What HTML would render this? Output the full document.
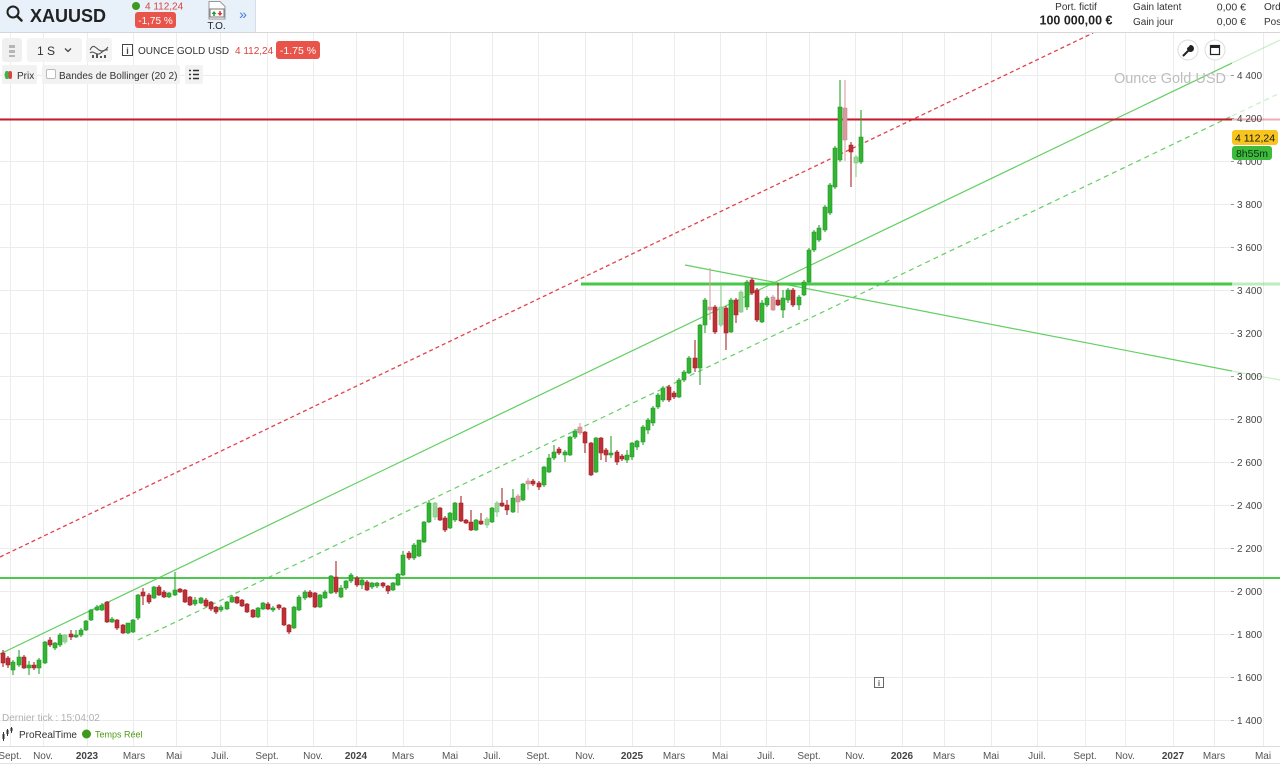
<!DOCTYPE html>
<html><head><meta charset="utf-8"><style>
html,body{margin:0;padding:0;background:#fff;}
svg{display:block;}
</style></head><body>
<svg width="1280" height="764" viewBox="0 0 1280 764" xmlns="http://www.w3.org/2000/svg" font-family="'Liberation Sans', Arial, sans-serif">
<defs><clipPath id="pc"><rect x="0" y="33" width="1232" height="713"/></clipPath></defs>
<rect width="1280" height="764" fill="#fff"/>

<!-- HEADER -->
<rect x="0" y="0" width="255" height="32" fill="#e8f0fa"/>
<line x1="0" y1="32.5" x2="1280" y2="32.5" stroke="#d6d6d6"/>
<line x1="255.5" y1="0" x2="255.5" y2="32" stroke="#d6dde6"/>
<circle cx="13" cy="12" r="5.5" fill="none" stroke="#222" stroke-width="2"/>
<line x1="17" y1="16" x2="21.5" y2="20.5" stroke="#222" stroke-width="2.5" stroke-linecap="round"/>
<text x="30" y="22" font-size="18" font-weight="bold" fill="#222">XAUUSD</text>
<circle cx="136" cy="6" r="4" fill="#3b9a1f"/>
<text x="145" y="9.5" font-size="10" fill="#d9443c">4 112,24</text>
<rect x="135" y="12" width="41" height="16" rx="3" fill="#e8534a"/>
<text x="155.5" y="24" font-size="10" fill="#fff" text-anchor="middle">-1,75 %</text>
<path d="M209 1.5h11l5 5v12.5h-16z" fill="#fff" stroke="#999"/>
<rect x="210" y="9" width="14" height="8" fill="#fff" stroke="#777"/>
<path d="M214 11l-2.5 3h1.7v2h1.6v-2h1.7z" fill="#2a9d2a"/>
<path d="M220 16l2.5-3h-1.7v-2h-1.6v2h-1.7z" fill="#d33"/>
<text x="216.5" y="29" font-size="10" fill="#222" text-anchor="middle">T.O.</text>
<text x="243" y="19" font-size="14" fill="#3a7bd5" text-anchor="middle">»</text>

<text x="1076" y="10" font-size="10" fill="#333" text-anchor="middle">Port. fictif</text>
<text x="1076" y="24.5" font-size="12.5" font-weight="bold" fill="#222" text-anchor="middle">100 000,00 €</text>
<text x="1133" y="10" font-size="10" fill="#333">Gain latent</text>
<text x="1133" y="25" font-size="10" fill="#333">Gain jour</text>
<text x="1246" y="10.5" font-size="10.5" fill="#333" text-anchor="end">0,00 €</text>
<text x="1246" y="25" font-size="10.5" fill="#333" text-anchor="end">0,00 €</text>
<text x="1264" y="10" font-size="10" fill="#333">Ord</text>
<text x="1264" y="25" font-size="10" fill="#333">Pos</text>

<!-- GRID -->
<g stroke="#ececec" stroke-width="1">
<path d="M0 75.5H1232M0 118.5H1232M0 161.5H1232M0 204.5H1232M0 247.5H1232M0 290.5H1232M0 333.5H1232M0 376.5H1232M0 419.5H1232M0 462.5H1232M0 505.5H1232M0 548.5H1232M0 591.5H1232M0 634.5H1232M0 677.5H1232M0 720.5H1232"/>
<path d="M10.5 33V746M43.5 33V746M87.5 33V746M133.5 33V746M176.5 33V746M220.5 33V746M267.5 33V746M313.5 33V746M356.5 33V746M403.5 33V746M450.5 33V746M492.5 33V746M538.5 33V746M585.5 33V746M632.5 33V746M674.5 33V746M720.5 33V746M766.5 33V746M809.5 33V746M855.5 33V746M902.5 33V746M944.5 33V746M991.5 33V746M1037.5 33V746M1085.5 33V746M1125.5 33V746M1173.5 33V746M1214.5 33V746M1263.5 33V746"/>
</g>

<!-- LINES -->
<g clip-path="url(#pc)">
<line x1="0" y1="557" x2="1093" y2="33" stroke="#e2424c" stroke-width="1.3" stroke-dasharray="4 3"/>
<line x1="0" y1="654" x2="1280" y2="40" stroke="#63cf63" stroke-width="1.2"/>
<line x1="138" y1="640" x2="1280" y2="93" stroke="#63cf63" stroke-width="1.2" stroke-dasharray="5 4"/>
<line x1="685" y1="265" x2="1232" y2="371" stroke="#63cf63" stroke-width="1.2"/>
<line x1="0" y1="119.5" x2="1232" y2="119.5" stroke="#c91a2c" stroke-width="2"/>
<line x1="581" y1="284" x2="1232" y2="284" stroke="#47c947" stroke-width="3"/>
<line x1="0" y1="578" x2="1232" y2="578" stroke="#4cc94c" stroke-width="2"/>
</g>
<g opacity="0.35">
<line x1="1232" y1="63" x2="1280" y2="40" stroke="#63cf63" stroke-width="1.2"/>
<line x1="1232" y1="116" x2="1280" y2="93" stroke="#63cf63" stroke-width="1.2" stroke-dasharray="5 4"/>
<line x1="1232" y1="371" x2="1280" y2="380" stroke="#63cf63" stroke-width="1.2"/>
<line x1="1232" y1="119.5" x2="1280" y2="119.5" stroke="#c91a2c" stroke-width="2"/>
<line x1="1232" y1="284" x2="1280" y2="284" stroke="#47c947" stroke-width="3"/>
</g>
<line x1="1232" y1="578" x2="1280" y2="578" stroke="#4cc94c" stroke-width="2"/>

<!-- CANDLES -->
<g clip-path="url(#pc)">
<path stroke="#2aa32a" stroke-width="1.1" fill="none" d="M13 660V675M19 650V667M29 661V675M39 658V674M45 641V664M55 642V650M60 633V647M76 630V638M81 628V637M86 620V631M91 609V621M97 605V611M102 603V611M112 617V623M128 623V634M133 619V633M138 594V620M154 586V599M169 592V598M175 572V596M195 597V606M201 597V604M221 605V612M227 601V610M232 595V603M258 607V618M263 602V610M273 606V612M294 606V629M299 595V611M305 590V600M320 594V608M325 590V599M331 575V594M341 585V598M346 580V590M351 573V583M362 578V589M372 582V589M377 582V588M393 582V591M398 573V586M403 551V576M414 543V560M419 540V557M424 521V543M429 500V523M450 512V529M455 502V522M476 519V531M492 507V523M513 489V513M523 483V501M544 466V487M549 454V473M554 445V460M565 450V462M570 436V456M575 429V439M596 437V473M611 436V458M627 450V463M632 442V460M637 440V450M643 425V445M648 418V434M653 406V426M658 393V409M663 386V402M679 378V398M684 370V382M689 356V374M700 324V385M705 298V333M731 298V333M747 280V310M762 300V323M767 296V307M783 290V318M788 288V303M799 295V310M804 280V296M809 248V283M814 230V252M819 225V242M825 205V232M830 183V215M835 146V189M840 80V162M861 110V164"/>
<path fill="#33b533" stroke="#24962a" stroke-width="0.6" d="M11 662h4v8h-4zM17 657h4v8h-4zM27 665h4v3h-4zM37 660h4v8h-4zM43 642h4v21h-4zM53 643h4v5h-4zM58 635h4v10h-4zM74 635h4v2h-4zM79 630h4v5h-4zM84 621h4v9h-4zM89 610h4v10h-4zM95 607h4v3h-4zM100 605h4v5h-4zM110 619h4v3h-4zM126 623h4v10h-4zM131 620h4v12h-4zM136 595h4v23h-4zM152 587h4v11h-4zM167 593h4v4h-4zM173 590h4v5h-4zM193 600h4v4h-4zM199 598h4v5h-4zM219 607h4v3h-4zM225 602h4v7h-4zM230 597h4v5h-4zM256 608h4v9h-4zM261 603h4v6h-4zM271 608h4v2h-4zM292 607h4v21h-4zM297 597h4v13h-4zM303 592h4v6h-4zM318 595h4v12h-4zM323 592h4v6h-4zM329 576h4v17h-4zM339 588h4v9h-4zM344 581h4v7h-4zM349 575h4v6h-4zM360 580h4v5h-4zM370 583h4v4h-4zM375 583h4v3h-4zM391 583h4v7h-4zM396 574h4v11h-4zM401 555h4v20h-4zM412 545h4v13h-4zM417 540h4v16h-4zM422 522h4v20h-4zM427 503h4v19h-4zM448 513h4v15h-4zM453 503h4v17h-4zM474 520h4v10h-4zM490 508h4v14h-4zM511 498h4v14h-4zM521 484h4v16h-4zM542 467h4v18h-4zM547 458h4v14h-4zM552 452h4v6h-4zM563 452h4v3h-4zM568 437h4v18h-4zM573 431h4v6h-4zM594 438h4v34h-4zM609 453h4v2h-4zM625 455h4v5h-4zM630 443h4v14h-4zM635 441h4v6h-4zM641 427h4v15h-4zM646 420h4v10h-4zM651 408h4v15h-4zM656 395h4v12h-4zM661 388h4v12h-4zM677 380h4v17h-4zM682 372h4v8h-4zM687 358h4v15h-4zM698 325h4v43h-4zM703 300h4v25h-4zM729 300h4v32h-4zM745 282h4v25h-4zM760 303h4v19h-4zM765 298h4v7h-4zM781 298h4v12h-4zM786 290h4v10h-4zM797 297h4v8h-4zM802 282h4v13h-4zM807 250h4v32h-4zM812 232h4v18h-4zM817 228h4v12h-4zM823 207h4v23h-4zM828 185h4v28h-4zM833 148h4v39h-4zM838 107h4v53h-4zM859 137h4v25h-4z"/>
<path stroke="#8fd08f" stroke-width="1.1" fill="none" d="M65 634V644M435 502V520M487 517V528M497 501V517M721 285V327M741 290V313M856 155V177"/>
<path fill="#94d894" stroke="#7cc47c" stroke-width="0.6" d="M63 635h4v7h-4zM433 503h4v14h-4zM485 519h4v6h-4zM495 503h4v9h-4zM719 307h4v18h-4zM739 292h4v20h-4zM854 157h4v6h-4z"/>
<path stroke="#a8262c" stroke-width="1.1" fill="none" d="M3 650V667M8 656V668M24 655V669M34 662V670M50 637V647M71 630V640M107 601V623M117 619V630M123 624V634M143 588V605M149 593V604M159 585V596M164 590V598M180 588V593M185 589V603M190 596V606M206 598V607M211 601V611M216 606V614M237 596V604M242 599V607M247 603V613M253 609V618M268 602V610M279 604V610M284 607V626M289 624V634M310 590V598M315 592V608M336 561V594M357 576V587M367 580V591M383 582V588M388 585V594M409 551V560M440 507V521M445 516V532M461 496V522M466 519V524M471 510V531M481 513V525M502 488V507M507 500V515M533 479V486M539 481V490M559 447V455M585 431V453M591 442V476M601 437V460M606 448V462M617 450V465M622 454V461M669 385V402M674 391V399M695 340V372M715 305V334M726 306V350M736 298V323M752 278V295M757 288V322M778 283V306M793 288V307M851 142V187"/>
<path fill="#bf3036" stroke="#a02228" stroke-width="0.6" d="M1 653h4v10h-4zM6 658h4v7h-4zM22 657h4v11h-4zM32 665h4v3h-4zM48 640h4v5h-4zM69 634h4v3h-4zM105 602h4v20h-4zM115 620h4v8h-4zM121 625h4v8h-4zM141 592h4v4h-4zM147 595h4v7h-4zM157 587h4v8h-4zM162 592h4v5h-4zM178 589h4v3h-4zM183 590h4v12h-4zM188 597h4v8h-4zM204 600h4v6h-4zM209 602h4v7h-4zM214 607h4v5h-4zM235 597h4v6h-4zM240 600h4v6h-4zM245 604h4v8h-4zM251 610h4v7h-4zM266 604h4v5h-4zM277 605h4v3h-4zM282 608h4v17h-4zM287 625h4v7h-4zM308 592h4v5h-4zM313 593h4v14h-4zM334 577h4v15h-4zM355 578h4v7h-4zM365 582h4v8h-4zM381 583h4v3h-4zM386 586h4v5h-4zM407 553h4v5h-4zM438 508h4v12h-4zM443 518h4v12h-4zM459 503h4v18h-4zM464 520h4v3h-4zM469 522h4v8h-4zM479 521h4v3h-4zM500 503h4v3h-4zM505 505h4v5h-4zM531 481h4v3h-4zM537 483h4v4h-4zM557 449h4v4h-4zM583 432h4v11h-4zM589 443h4v32h-4zM599 438h4v15h-4zM604 450h4v5h-4zM615 452h4v10h-4zM620 456h4v3h-4zM667 387h4v13h-4zM672 393h4v4h-4zM693 358h4v10h-4zM713 307h4v25h-4zM724 308h4v25h-4zM734 300h4v15h-4zM750 280h4v13h-4zM755 290h4v30h-4zM776 300h4v5h-4zM791 290h4v15h-4zM849 145h4v7h-4z"/>
<path stroke="#d8a0a3" stroke-width="1.1" fill="none" d="M518 494V513M528 478V490M580 423V435M710 268V320M773 295V311M845 80V161"/>
<path fill="#d89a9e" stroke="#c88a8e" stroke-width="0.6" d="M516 496h4v6h-4zM526 481h4v3h-4zM578 427h4v6h-4zM708 307h4v3h-4zM771 297h4v13h-4zM843 108h4v32h-4z"/>
</g>

<!-- CHART TOOLBAR -->
<rect x="2" y="38" width="20" height="24" rx="3" fill="#f0f0f0"/>
<path d="M9 45h6v3h-6zM9 50h6v3h-6zM9 55h6v2h-6z" fill="#b5b5b5"/>
<rect x="27" y="38" width="55" height="24" rx="3" fill="#f4f4f4"/>
<text x="37" y="55" font-size="12" fill="#333">1 S</text>
<path d="M65 48.5l3 3 3-3" fill="none" stroke="#444" stroke-width="1.3"/>
<rect x="86" y="38" width="26" height="24" rx="3" fill="#f4f4f4"/>
<path d="M90 50c3-7 6-2 9 0s6 1 9-3M90 53c3-3 6 2 9 1s5-5 9-4" fill="none" stroke="#555" stroke-width="1.1"/>
<path d="M92 58v-3h2v3zM96 58v-4h2v4zM100 58v-2h2v2zM104 58v-3h2v3z" fill="#555"/>
<rect x="122.5" y="44.5" width="10" height="11" fill="#fff" stroke="#444"/>
<text x="127.5" y="54" font-size="9" font-weight="bold" fill="#444" text-anchor="middle">i</text>
<text x="138" y="54" font-size="10" fill="#333">OUNCE GOLD USD</text>
<text x="235" y="54" font-size="10" fill="#d9443c">4 112,24</text>
<rect x="276" y="41" width="44" height="18" rx="3" fill="#e8534a"/>
<text x="298" y="54" font-size="10.5" fill="#fff" text-anchor="middle">-1.75 %</text>

<rect x="2" y="65" width="35" height="19" rx="2" fill="#f2f2f2"/>
<path d="M8.5 71h0v8h0a4 4 0 0 1 0-8z" fill="#3cb44b"/>
<rect x="5" y="71" width="3.5" height="8" rx="2" fill="#3cb44b"/>
<rect x="8.5" y="71" width="3.5" height="8" rx="2" fill="#d9443c"/>
<text x="17" y="79" font-size="10" fill="#333">Prix</text>
<rect x="42" y="65" width="138" height="19" rx="2" fill="#f2f2f2"/>
<rect x="46.5" y="69.5" width="9" height="9" rx="1.5" fill="#fff" stroke="#bbb"/>
<text x="59" y="79" font-size="10" fill="#333">Bandes de Bollinger (20 2)</text>
<rect x="185" y="65" width="18" height="19" rx="2" fill="#f2f2f2"/>
<path d="M189 70.5h2M189 74.5h2M189 78.5h2M193 70.5h6M193 74.5h6M193 78.5h6" stroke="#333" stroke-width="1.4"/>

<!-- right icons -->
<circle cx="1188" cy="50" r="10" fill="#fff" stroke="#dcdcdc"/>
<path d="M1183.5 55.5l5-5M1188 48.5a2.5 2.5 0 1 0 2.5-2.5l-1 1.5z" fill="#222" stroke="#222" stroke-width="2" stroke-linecap="round"/>
<circle cx="1215" cy="50" r="10" fill="#fff" stroke="#dcdcdc"/>
<rect x="1210.5" y="45.5" width="9" height="9" fill="none" stroke="#222" stroke-width="1.2"/>
<rect x="1210.5" y="45.5" width="9" height="2.5" fill="#222"/>
<text x="1226" y="83" font-size="14.5" fill="#bdbdbd" text-anchor="end">Ounce Gold USD</text>

<!-- PRICE AXIS -->
<g font-size="10" fill="#444">
<text x="1237" y="79">4 400</text>
<text x="1237" y="122">4 200</text>
<text x="1237" y="165">4 000</text>
<text x="1237" y="208">3 800</text>
<text x="1237" y="251">3 600</text>
<text x="1237" y="294">3 400</text>
<text x="1237" y="337">3 200</text>
<text x="1237" y="380">3 000</text>
<text x="1237" y="423">2 800</text>
<text x="1237" y="466">2 600</text>
<text x="1237" y="509">2 400</text>
<text x="1237" y="552">2 200</text>
<text x="1237" y="595">2 000</text>
<text x="1237" y="638">1 800</text>
<text x="1237" y="681">1 600</text>
<text x="1237" y="724">1 400</text>
</g>
<path d="M1231 75.5h3M1231 118.5h3M1231 161.5h3M1231 204.5h3M1231 247.5h3M1231 290.5h3M1231 333.5h3M1231 376.5h3M1231 419.5h3M1231 462.5h3M1231 505.5h3M1231 548.5h3M1231 591.5h3M1231 634.5h3M1231 677.5h3M1231 720.5h3" stroke="#999"/>
<rect x="1232" y="130" width="46" height="15" rx="3" fill="#f7c51e"/>
<text x="1255" y="141.5" font-size="10.5" fill="#111" text-anchor="middle">4 112,24</text>
<rect x="1232" y="146" width="40" height="14" rx="3" fill="#3dbb3d"/>
<text x="1252" y="157" font-size="10.5" fill="#0d2d0d" text-anchor="middle">8h55m</text>

<!-- info icon -->
<rect x="874.5" y="677.5" width="9" height="10" fill="#fff" stroke="#666"/>
<text x="879" y="686" font-size="8" font-weight="bold" fill="#555" text-anchor="middle">i</text>

<!-- bottom-left info -->
<text x="2" y="721" font-size="10" fill="#b0b0b0">Dernier tick : 15:04:02</text>
<path d="M3.5 732v9M7.5 729v7M11.5 727v6" stroke="#333" stroke-width="1"/>
<path d="M2.5 734h2v5h-2zM6.5 730h2v4h-2zM10.5 728h2v3h-2z" fill="#333"/>
<text x="19" y="738" font-size="10" fill="#333">ProRealTime</text>
<circle cx="86.5" cy="734" r="4.5" fill="#3f9a1c"/>
<text x="95" y="737.5" font-size="9" fill="#4f9a12">Temps Réel</text>

<!-- TIME AXIS -->
<line x1="0" y1="746.5" x2="1280" y2="746.5" stroke="#dcdcdc"/>
<line x1="0" y1="763.5" x2="1280" y2="763.5" stroke="#e4e4e4"/>
<g font-size="10" fill="#555" text-anchor="middle">
<text x="10" y="759">Sept.</text>
<text x="43" y="759">Nov.</text>
<text x="87" y="759" font-weight="bold" fill="#444">2023</text>
<text x="134" y="759">Mars</text>
<text x="174" y="759">Mai</text>
<text x="220" y="759">Juil.</text>
<text x="267" y="759">Sept.</text>
<text x="313" y="759">Nov.</text>
<text x="356" y="759" font-weight="bold" fill="#444">2024</text>
<text x="403" y="759">Mars</text>
<text x="450" y="759">Mai</text>
<text x="492" y="759">Juil.</text>
<text x="538" y="759">Sept.</text>
<text x="585" y="759">Nov.</text>
<text x="632" y="759" font-weight="bold" fill="#444">2025</text>
<text x="674" y="759">Mars</text>
<text x="720" y="759">Mai</text>
<text x="766" y="759">Juil.</text>
<text x="809" y="759">Sept.</text>
<text x="855" y="759">Nov.</text>
<text x="902" y="759" font-weight="bold" fill="#444">2026</text>
<text x="944" y="759">Mars</text>
<text x="991" y="759">Mai</text>
<text x="1037" y="759">Juil.</text>
<text x="1085" y="759">Sept.</text>
<text x="1125" y="759">Nov.</text>
<text x="1173" y="759" font-weight="bold" fill="#444">2027</text>
<text x="1214" y="759">Mars</text>
<text x="1263" y="759">Mai</text>
</g>
</svg>
</body></html>
